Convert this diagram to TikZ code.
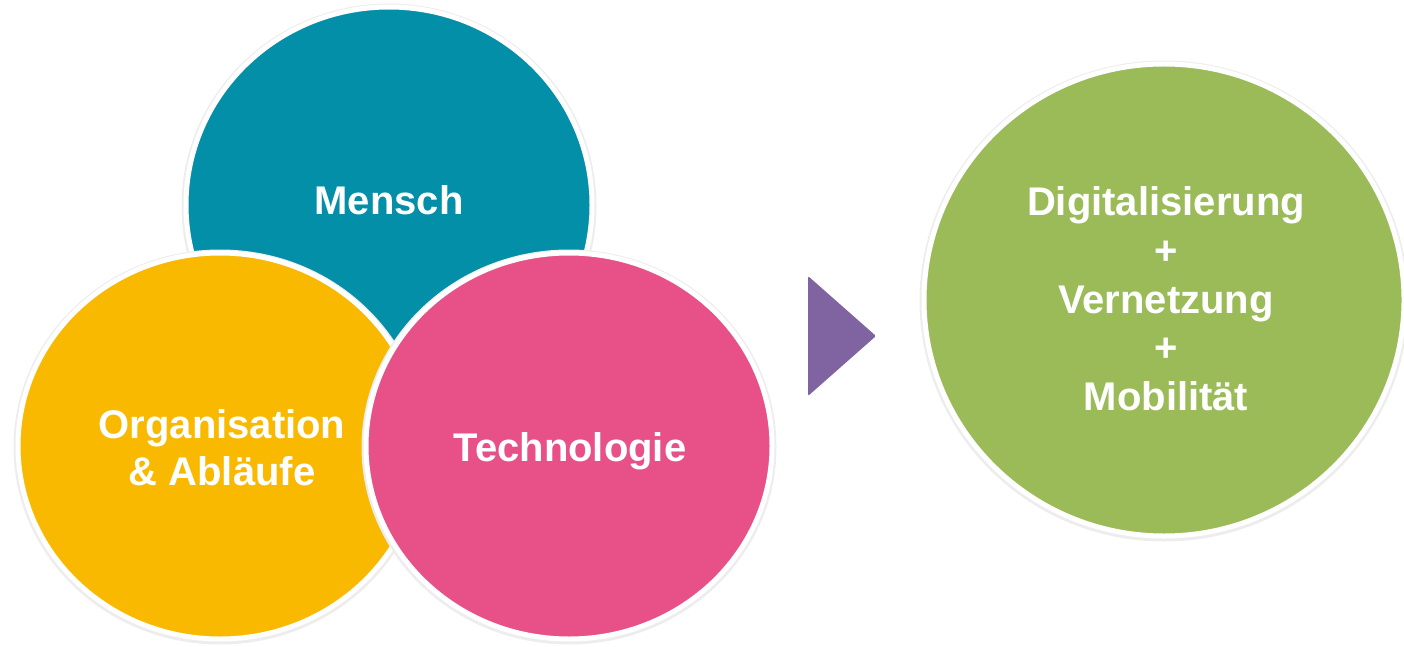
\documentclass[tikz,border=0pt]{standalone}
\usepackage{fontspec}
\setmainfont{Liberation Sans}
\usetikzlibrary{shapes.geometric}
\definecolor{cteal}{RGB}{4,143,168}
\definecolor{corange}{RGB}{249,185,0}
\definecolor{cpink}{RGB}{232,80,136}
\definecolor{cgreen}{RGB}{155,187,89}
\definecolor{cpurple}{RGB}{128,100,162}
\tikzset{
  shadowring/.style={ellipse, inner sep=0pt, outer sep=0pt, draw=black!7, line width=9pt},
  bubble/.style={ellipse, inner sep=0pt, outer sep=0pt, draw=white, line width=5pt},
  lbl/.style={text=white, font=\fontsize{40}{47}\selectfont\bfseries, align=center, inner sep=0pt},
}
\begin{document}
\begin{tikzpicture}[x=1pt,y=-1pt]
\useasboundingbox (0,0) rectangle (1404,647);
% Mensch
\node[shadowring, minimum width=406pt, minimum height=396pt] (ms) at (389,206) {};
\node[bubble, fill=cteal, minimum width=406pt, minimum height=396pt] (mensch) at (389,205) {};
% Organisation
\node[shadowring, minimum width=404pt, minimum height=386pt] (os) at (220,447) {};
\node[bubble, fill=corange, minimum width=404pt, minimum height=386pt] (orga) at (220,446) {};
% Technologie
\node[shadowring, minimum width=406pt, minimum height=386pt] (ts) at (569,447) {};
\node[bubble, fill=cpink, minimum width=406pt, minimum height=386pt] (tech) at (569,446) {};
% Green
\node[shadowring, minimum width=480pt, minimum height=472pt] (gs) at (1164,301) {};
\node[bubble, fill=cgreen, minimum width=480pt, minimum height=472pt] (green) at (1164,300) {};
% arrow triangle
\fill[cpurple, rounded corners=2pt] (808,276) -- (876,336) -- (808,396) -- cycle;
% labels
\node[lbl, anchor=base] (tm) at (389,214) {Mensch};
\node[lbl, anchor=base] (to1) at (222,438) {Organisation};
\node[lbl, anchor=base] (to2) at (222,485) {\& Abläufe};
\node[lbl, anchor=base] (tt) at (570,461) {Technologie};
\node[lbl, anchor=base] (g1) at (1166,215) {Digitalisierung};
\node[lbl, anchor=base] (g2) at (1166,264) {+};
\node[lbl, anchor=base] (g3) at (1166,313) {Vernetzung};
\node[lbl, anchor=base] (g4) at (1166,361) {+};
\node[lbl, anchor=base] (g5) at (1166,410) {Mobilität};
\end{tikzpicture}
\end{document}
